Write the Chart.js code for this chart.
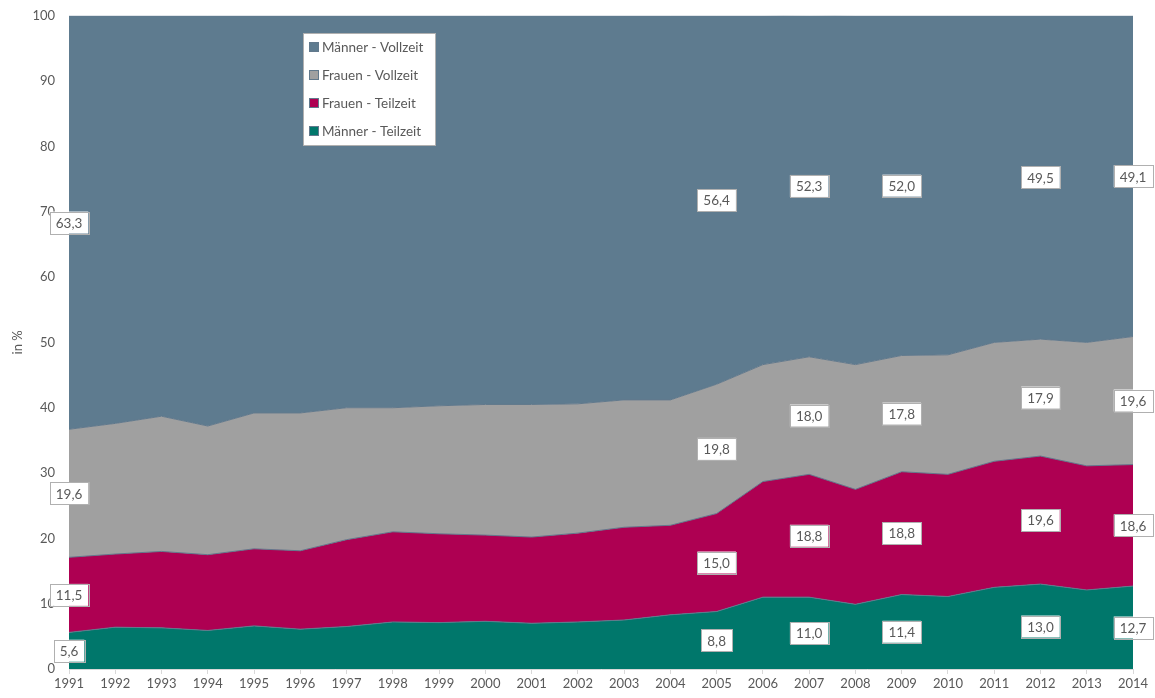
<!DOCTYPE html>
<html>
<head>
<meta charset="utf-8">
<script src="https://cdn.jsdelivr.net/npm/chart.js@4"></script>
<style>
  html, body { margin: 0; padding: 0; background: #fff; }
  #wrap { width: 1155px; height: 698px; }
</style>
</head>
<body>
<div id="wrap"><canvas id="chart" width="1155" height="698"></canvas></div>
<script>
const years = ['1991','1992','1993','1994','1995','1996','1997','1998','1999','2000','2001','2002',
  '2003','2004','2005','2006','2007','2008','2009','2010','2011','2012','2013','2014'];
const maennerTeilzeit = [5.6, 6.4, 6.3, 5.9, 6.6, 6.1, 6.5, 7.2, 7.1, 7.3, 7.0, 7.2,
  7.5, 8.3, 8.8, 11.0, 11.0, 9.9, 11.4, 11.1, 12.5, 13.0, 12.1, 12.7];
const frauenTeilzeit = [11.5, 11.2, 11.7, 11.6, 11.8, 12.0, 13.3, 13.8, 13.6, 13.2, 13.2, 13.6,
  14.2, 13.7, 15.0, 17.7, 18.8, 17.6, 18.8, 18.7, 19.3, 19.6, 19.0, 18.6];
const frauenVollzeit = [19.6, 20.0, 20.7, 19.7, 20.8, 21.1, 20.2, 19.0, 19.6, 20.0, 20.3, 19.8,
  19.5, 19.2, 19.8, 17.9, 18.0, 19.1, 17.8, 18.3, 18.2, 17.9, 18.9, 19.6];
const maennerVollzeit = [63.3, 62.4, 61.3, 62.8, 60.8, 60.8, 60.0, 60.0, 59.7, 59.5, 59.5, 59.4,
  58.8, 58.8, 56.4, 53.4, 52.3, 53.4, 52.0, 51.9, 50.0, 49.5, 50.0, 49.1];
const labeledYears = ['1991','2005','2007','2009','2012','2014'];
const yTicks = [0, 10, 20, 30, 40, 50, 60, 70, 80, 90, 100];

const FONT = 'Lato, "Open Sans", sans-serif';
const TEXT = '#595959';
const edge = '#62798c';

// white boxed value labels in the middle of each band
const bandLabels = {
  id: 'bandLabels',
  afterDatasetsDraw(chart) {
    const ctx = chart.ctx;
    const y = chart.scales.y;
    ctx.save();
    ctx.font = '13.5px ' + FONT;
    ctx.textAlign = 'center';
    ctx.textBaseline = 'middle';
    labeledYears.forEach(yr => {
      const i = years.indexOf(yr);
      let base = 0;
      chart.data.datasets.forEach((ds, d) => {
        const v = ds.data[i];
        const px = chart.getDatasetMeta(d).data[i].x;
        const py = y.getPixelForValue(base + v / 2);
        base += v;
        const txt = v.toFixed(1).replace('.', ',');
        const w = ctx.measureText(txt).width + 12;
        const h = 22;
        ctx.fillStyle = '#fff';
        ctx.fillRect(px - w / 2, py - h / 2, w, h);
        ctx.strokeStyle = '#b0b0b0';
        ctx.lineWidth = 1;
        ctx.strokeRect(Math.round(px - w / 2) + 0.5, Math.round(py - h / 2) + 0.5, Math.round(w), h);
        ctx.fillStyle = TEXT;
        ctx.fillText(txt, px, py + 1);
      });
    });
    ctx.restore();
  }
};

// legend box inside the plot, top series first
const boxLegend = {
  id: 'boxLegend',
  afterDraw(chart) {
    const ctx = chart.ctx;
    const x0 = 303, y0 = 33, w = 132, h = 112;
    ctx.save();
    ctx.fillStyle = '#fff';
    ctx.fillRect(x0, y0, w, h);
    ctx.strokeStyle = '#b0b0b0';
    ctx.lineWidth = 1;
    ctx.strokeRect(x0 + 0.5, y0 + 0.5, w, h);
    ctx.font = '13.5px ' + FONT;
    ctx.textBaseline = 'middle';
    ctx.textAlign = 'left';
    const list = chart.data.datasets.slice().reverse();
    list.forEach((ds, k) => {
      const cy = y0 + 14 + k * 28;
      ctx.fillStyle = ds.backgroundColor;
      ctx.fillRect(x0 + 6, cy - 5, 10, 10);
      ctx.strokeStyle = edge;
      ctx.strokeRect(x0 + 6.5, cy - 4.5, 9, 9);
      ctx.fillStyle = TEXT;
      ctx.fillText(ds.label, x0 + 19, cy + 1);
    });
    ctx.restore();
  }
};

const area = (label, data, color) => ({
  label, data,
  backgroundColor: color,
  borderColor: edge,
  borderWidth: 1,
  pointRadius: 0,
  tension: 0,
  fill: label === 'Männer - Teilzeit' ? 'origin' : '-1'
});

new Chart(document.getElementById('chart'), {
  type: 'line',
  data: {
    labels: years,
    datasets: [
      area('Männer - Teilzeit', maennerTeilzeit, '#00776b'),
      area('Frauen - Teilzeit', frauenTeilzeit, '#ae0052'),
      area('Frauen - Vollzeit', frauenVollzeit, '#a0a0a0'),
      area('Männer - Vollzeit', maennerVollzeit, '#5e7b8f')
    ]
  },
  options: {
    responsive: false,
    animation: false,
    layout: { padding: { top: 4, right: 22, bottom: 0, left: 0 } },
    plugins: {
      legend: { display: false },
      tooltip: { enabled: false }
    },
    scales: {
      x: {
        offset: false,
        grid: { display: true, drawOnChartArea: false, drawTicks: true, tickLength: 5, color: '#d9d9d9' },
        border: { display: true, color: '#d9d9d9' },
        ticks: { color: TEXT, font: { family: FONT, size: 13 }, maxRotation: 0, autoSkip: false, padding: 2 },
        afterFit(scale) { scale.height = 29; }
      },
      y: {
        stacked: true,
        min: 0,
        max: 100,
        grid: { display: false, tickLength: 6 },
        border: { display: false },
        afterBuildTicks(scale) { scale.ticks = yTicks.map(v => ({ value: v })); },
        ticks: { color: TEXT, font: { family: FONT, size: 13 }, padding: 8 },
        title: { display: true, text: 'in %', color: TEXT, font: { family: FONT, size: 13 }, padding: { top: 10, bottom: 0 } },
        afterFit(scale) { scale.width = 69; }
      }
    }
  },
  plugins: [bandLabels, boxLegend]
});
</script>
</body>
</html>
